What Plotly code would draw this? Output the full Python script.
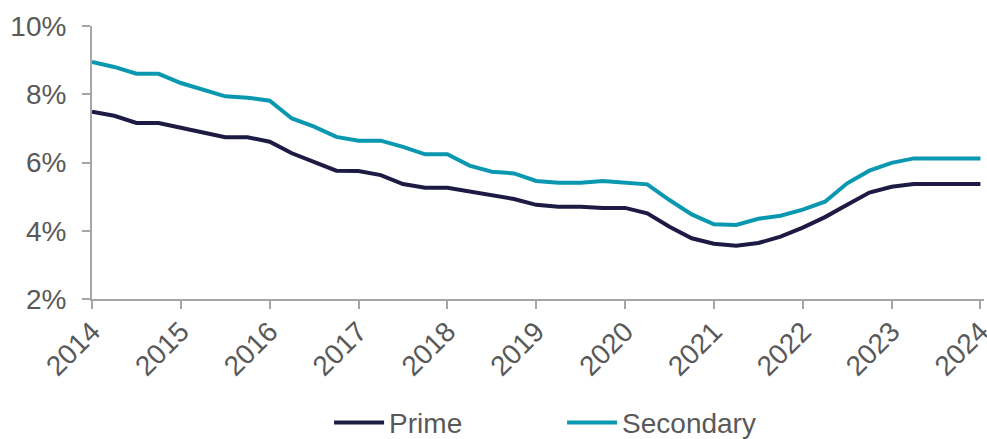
import plotly.graph_objects as go

# Quarterly yields, Q1 2014 to Q1 2024
quarters = [2014 + i * 0.25 for i in range(41)]

prime = [7.49, 7.37, 7.16, 7.16, 7.02, 6.88, 6.74, 6.74, 6.61, 6.27,
         6.02, 5.76, 5.75, 5.63, 5.37, 5.26, 5.26, 5.15, 5.02, 4.93,
         4.76, 4.70, 4.70, 4.67, 4.67, 4.51, 4.12, 3.78, 3.62, 3.56,
         3.64, 3.83, 4.09, 4.40, 4.76, 5.12, 5.29, 5.37, 5.37, 5.37,
         5.37]

secondary = [8.95, 8.80, 8.60, 8.60, 8.33, 8.12, 7.94, 7.90, 7.81, 7.29,
             7.05, 6.75, 6.64, 6.64, 6.46, 6.24, 6.24, 5.91, 5.73, 5.68,
             5.46, 5.41, 5.41, 5.46, 5.41, 5.36, 4.90, 4.48, 4.19, 4.17,
             4.35, 4.44, 4.62, 4.85, 5.39, 5.76, 5.99, 6.12, 6.12, 6.12,
             6.12]

year_ticks = list(range(2014, 2025))
year_labels = [str(y) for y in year_ticks]
pct_ticks = [2, 4, 6, 8, 10]
pct_labels = [f"{v}%" for v in pct_ticks]

PRIME_COLOR = "#1d1a44"
SECONDARY_COLOR = "#0a98b0"
AXIS_COLOR = "#a6a6a6"
TEXT_COLOR = "#595959"

fig = go.Figure()
fig.add_trace(go.Scatter(x=quarters, y=prime, mode="lines", name="Prime",
                         line=dict(color=PRIME_COLOR, width=4)))
fig.add_trace(go.Scatter(x=quarters, y=secondary, mode="lines", name="Secondary",
                         line=dict(color=SECONDARY_COLOR, width=4)))

font = dict(family="Liberation Sans, Arial, sans-serif", size=28, color=TEXT_COLOR)

fig.update_layout(
    width=987, height=439,
    margin=dict(l=92, r=3, t=26, b=140, autoexpand=False),
    paper_bgcolor="white", plot_bgcolor="white",
    font=font,
    showlegend=True,
    legend=dict(orientation="h", x=0.527, xanchor="center", y=-0.362, yanchor="top",
                font=font, itemwidth=50, entrywidth=168, bgcolor="rgba(0,0,0,0)"),
    xaxis=dict(range=[2014, 2024.04], tickvals=year_ticks, ticktext=year_labels,
               tickangle=-45, showgrid=False, zeroline=False, automargin=False,
               showline=True, linecolor=AXIS_COLOR, linewidth=2,
               ticks="outside", ticklen=8, tickwidth=2, tickcolor=AXIS_COLOR,
               tickfont=font, ticklabeloverflow="allow", ticklabelstandoff=-5),
    yaxis=dict(range=[2, 10], tickvals=pct_ticks, ticktext=pct_labels,
               showgrid=False, zeroline=False, automargin=False,
               showline=True, linecolor=AXIS_COLOR, linewidth=2,
               ticks="outside", ticklen=8, tickwidth=2, tickcolor=AXIS_COLOR,
               tickfont=font, ticklabelstandoff=10),
)

fig.write_html("out.html")
